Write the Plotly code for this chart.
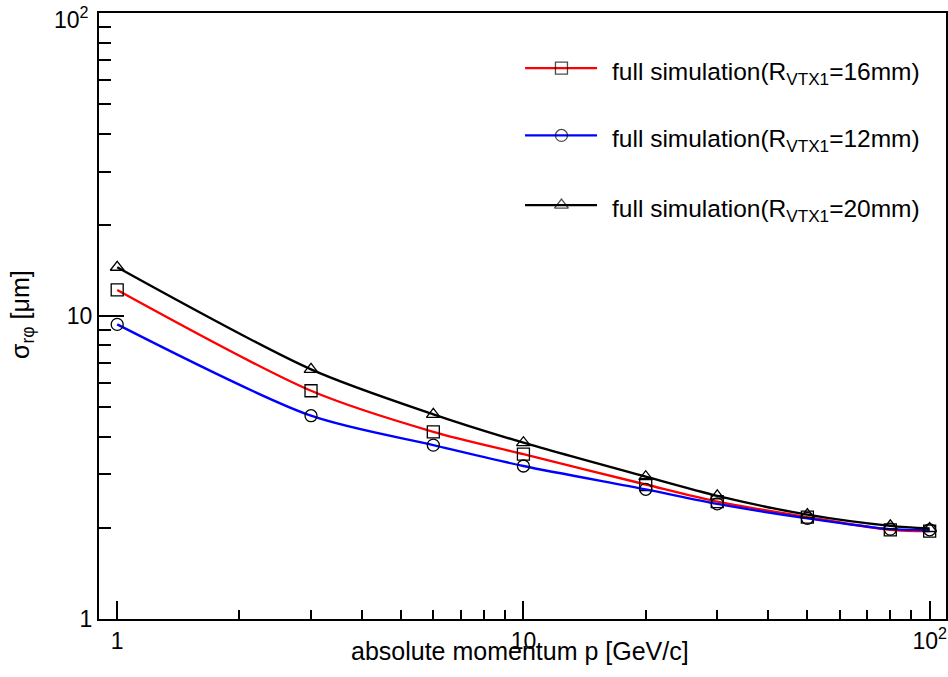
import plotly.graph_objects as go
import math

# ---------------- data ----------------
momentum = [1, 3, 6, 10, 20, 30, 50, 80, 100]
sigma_16mm = [12.2, 5.67, 4.15, 3.50, 2.78, 2.44, 2.17, 1.97, 1.95]
sigma_12mm = [9.39, 4.69, 3.75, 3.20, 2.68, 2.40, 2.15, 1.98, 1.97]
sigma_20mm = [14.5, 6.67, 4.74, 3.82, 2.95, 2.55, 2.21, 2.03, 1.99]

series_names = [
    "full simulation(R<sub>VTX1</sub>=16mm)",
    "full simulation(R<sub>VTX1</sub>=12mm)",
    "full simulation(R<sub>VTX1</sub>=20mm)",
]
series_values = [sigma_16mm, sigma_12mm, sigma_20mm]
series_colors = ["#ff0000", "#0000ff", "#000000"]
series_symbols = ["square-open", "circle-open", "triangle-up-open"]

tick_vals = [1, 10, 100]
x_tick_text = ["1", "10", "10<sup>2</sup>"]
y_tick_text = ["1", "10", ""]   # top label drawn as an annotation below
y_top_label = "10<sup>2</sup>"

FONT = "Liberation Sans, Arial, Helvetica, sans-serif"

fig = go.Figure()

for name, vals, col, sym in zip(series_names, series_values, series_colors, series_symbols):
    fig.add_trace(go.Scatter(
        x=momentum, y=vals, mode="lines+markers", name=name,
        line=dict(color=col, width=2.4, shape="spline", smoothing=0.8),
        marker=dict(symbol=sym, color="black", size=12, line=dict(color="black", width=1.3)),
        showlegend=False, cliponaxis=False,
    ))

# ---------------- hand-drawn legend on an overlay axis ----------------
leg_x0, leg_xm, leg_x1, leg_tx = 0.503, 0.546, 0.588, 0.603
leg_rows = [0.909, 0.798, 0.683]
for name, col, sym, yy in zip(series_names, series_colors, series_symbols, leg_rows):
    fig.add_trace(go.Scatter(
        x=[leg_x0, leg_xm, leg_x1], y=[yy, yy, yy], xaxis="x2", yaxis="y2",
        mode="lines+markers",
        line=dict(color=col, width=2.4),
        marker=dict(symbol=sym, color="black", size=[0, 12, 0], line=dict(color="black", width=1.3)),
        showlegend=False, hoverinfo="skip",
    ))
    fig.add_annotation(
        x=leg_tx, y=yy, xref="paper", yref="paper", xanchor="left", yanchor="middle",
        text=name, showarrow=False, yshift=-5,
        font=dict(family=FONT, size=24.5, color="black"),
    )

axis_common = dict(
    type="log", showgrid=False, zeroline=False, automargin=False,
    showline=True, linecolor="black", linewidth=2, mirror=True,
    ticks="inside", tickcolor="black", ticklabeloverflow="allow",
    tickvals=tick_vals,
    tickfont=dict(family=FONT, size=23, color="black"),
)

fig.update_layout(
    width=948, height=677,
    margin=dict(l=99, r=2, t=13, b=58, autoexpand=False),
    paper_bgcolor="white", plot_bgcolor="white",
    showlegend=False,
    xaxis=dict(
        **axis_common,
        ticktext=x_tick_text,
        range=[math.log10(0.902), math.log10(109.7)],
        ticklen=18, tickwidth=1.5,
        minor=dict(ticks="inside", ticklen=9, tickwidth=1.5, tickcolor="black", dtick="D1"),
    ),
    yaxis=dict(
        **axis_common,
        ticktext=y_tick_text,
        range=[0, 2.0008],
        ticklen=25, tickwidth=1.5,
        minor=dict(ticks="inside", ticklen=12, tickwidth=1.5, tickcolor="black", dtick="D1"),
    ),
    xaxis2=dict(overlaying="x", range=[0, 1], visible=False, domain=[0, 1]),
    yaxis2=dict(overlaying="y", range=[0, 1], visible=False, domain=[0, 1]),
)

# top y tick label (kept inside the page like the reference)
fig.add_annotation(
    x=(91 - 99) / 846.7, y=1.0, xref="paper", yref="paper",
    showarrow=False, text=y_top_label, xanchor="right", yanchor="middle", yshift=-5,
    font=dict(family=FONT, size=23, color="black"),
)

# axis titles
fig.add_annotation(
    x=(691 - 99) / 846.7, y=-0.053, xref="paper", yref="paper",
    xanchor="right", yanchor="middle", showarrow=False,
    text="absolute momentum p [GeV/c]",
    font=dict(family=FONT, size=25, color="black"),
)
fig.add_annotation(
    x=(22 - 99) / 846.7, y=(619 - 314) / 606, xref="paper", yref="paper",
    xanchor="center", yanchor="middle", showarrow=False, textangle=-90,
    text="σ<sub>rφ</sub> [μm]",
    font=dict(family=FONT, size=25, color="black"),
)

fig.write_html(
    "out.html",
    config={"displayModeBar": False},
    post_script="document.body.style.margin='0px';document.body.style.padding='0px';",
)
